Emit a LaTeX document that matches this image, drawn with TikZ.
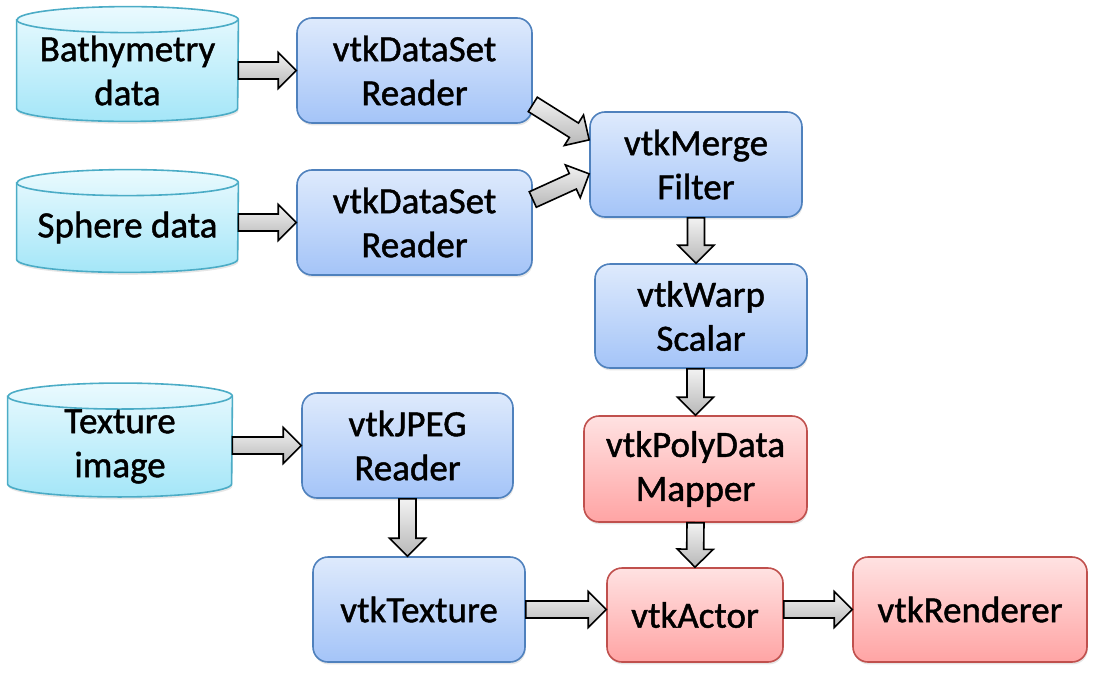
\documentclass[tikz,border=0pt]{standalone}
\usepackage{fontspec}
\setmainfont[FakeBold=1.2]{Carlito}
\usetikzlibrary{calc,backgrounds,shadows}

\definecolor{bluetop}{RGB}{222,234,252}
\definecolor{bluebot}{RGB}{164,196,248}
\definecolor{blueline}{RGB}{79,129,189}
\definecolor{redtop}{RGB}{255,226,226}
\definecolor{redbot}{RGB}{255,164,164}
\definecolor{redline}{RGB}{192,80,77}
\definecolor{cyltop}{RGB}{234,250,254}
\definecolor{cylbot}{RGB}{164,230,248}
\definecolor{cylline}{RGB}{75,172,198}

% block arrow from #1 to #2
\newcommand{\flowarrow}[2]{%
  \draw[flow] let \p1=(#1), \p2=(#2),
      \n1={veclen(\x2-\x1,\y2-\y1)}, \n2={atan2(\y2-\y1,\x2-\x1)},
      \n3={\n1-9pt}, \n4={cos(\n2)}, \n5={sin(\n2)} in
    ({\x1-4.25pt*\n5},{\y1+4.25pt*\n4})
    -- ({\x1+\n3*\n4-4.25pt*\n5},{\y1+\n3*\n5+4.25pt*\n4})
    -- ({\x1+\n3*\n4-9pt*\n5},{\y1+\n3*\n5+9pt*\n4})
    -- (\p2)
    -- ({\x1+\n3*\n4+9pt*\n5},{\y1+\n3*\n5-9pt*\n4})
    -- ({\x1+\n3*\n4+4.25pt*\n5},{\y1+\n3*\n5-4.25pt*\n4})
    -- ({\x1+4.25pt*\n5},{\y1-4.25pt*\n4}) -- cycle;
}

% cylinder round node #1, half width #2
\newcommand{\dbcyl}[2]{%
  \draw[dbline] ([yshift=6.5pt]#1.north west) -- (#1.south west)
    arc[start angle=180, end angle=360, x radius=#2, y radius=6.5pt]
    -- ([yshift=6.5pt]#1.north east)
    arc[start angle=0, end angle=180, x radius=#2, y radius=6.5pt] -- cycle;
  \draw[draw=cylline, line width=0.8pt] ([yshift=6.5pt]#1.north west)
    arc[start angle=180, end angle=360, x radius=#2, y radius=6.5pt];
}

\begin{document}
\begin{tikzpicture}[x=0.5pt,y=-0.5pt,
    every node/.style={font=\fontsize{18.5}{22}\selectfont, align=center, inner sep=0pt},
    blk/.style={draw=blueline, line width=0.8pt, rounded corners=7.5pt,
      top color=bluetop, bottom color=bluebot,
      drop shadow={shadow xshift=0.4pt, shadow yshift=-1.2pt, opacity=0.2}},
    rblk/.style={blk, draw=redline, top color=redtop, bottom color=redbot},
    dbline/.style={draw=cylline, line width=0.8pt, top color=cyltop, bottom color=cylbot,
      drop shadow={shadow xshift=0.4pt, shadow yshift=-1.2pt, opacity=0.2}},
    flow/.style={draw=black, line width=0.8pt, top color=black!5, bottom color=black!28}
]
\useasboundingbox (0,0) rectangle (1096,674);

% data sources
\node[minimum width=110.5pt, minimum height=37.5pt] (bath) at (127.5,70.5) {Bathymetry\\data};
\node[minimum width=110.5pt, minimum height=31.5pt] (sph) at (127.5,227.5) {Sphere data};
\node[minimum width=112pt, minimum height=36.5pt] (tex) at (120,446.5) {Texture\\image};
\begin{scope}[on background layer]
  \dbcyl{bath}{55.25pt}
  \dbcyl{sph}{55.25pt}
  \dbcyl{tex}{56pt}
\end{scope}

% readers and filters
\node[blk, minimum width=117.5pt, minimum height=52.5pt] (rdA) at (414.5,70.5) {vtkDataSet\\Reader};
\node[blk, minimum width=117.5pt, minimum height=52.5pt] (rdB) at (414.5,222.5) {vtkDataSet\\Reader};
\node[blk, minimum width=106pt, minimum height=52.5pt] (merge) at (696,164.5) {vtkMerge\\Filter};
\node[blk, minimum width=106pt, minimum height=52pt] (warp) at (701,316) {vtkWarp\\Scalar};
\node[blk, minimum width=105.5pt, minimum height=52.5pt] (jpeg) at (407.5,445.5) {vtkJPEG\\Reader};
\node[blk, minimum width=106pt, minimum height=52.5pt] (texture) at (419,609.5) {vtkTexture};

% rendering
\node[rblk, minimum width=111.5pt, minimum height=53pt] (mapper) at (695.5,469) {vtkPolyData\\Mapper};
\node[rblk, minimum width=88pt, minimum height=47pt] (actor) at (695,615) {vtkActor};
\node[rblk, minimum width=117pt, minimum height=52.5pt] (render) at (970,609.5) {vtkRenderer};

% pipeline
\flowarrow{bath.east}{rdA.west}
\flowarrow{sph.east |- rdB.west}{rdB.west}
\flowarrow{tex.east |- jpeg.west}{jpeg.west}
\flowarrow{rdA.-16}{merge.167}
\flowarrow{rdB.11}{merge.185}
\flowarrow{merge.south}{merge.south |- warp.north}
\flowarrow{warp.south -| mapper.north}{mapper.north}
\flowarrow{mapper.south}{actor.north}
\flowarrow{jpeg.south}{jpeg.south |- texture.north}
\flowarrow{texture.east}{texture.east -| actor.west}
\flowarrow{actor.east |- render.west}{render.west}
\end{tikzpicture}
\end{document}
